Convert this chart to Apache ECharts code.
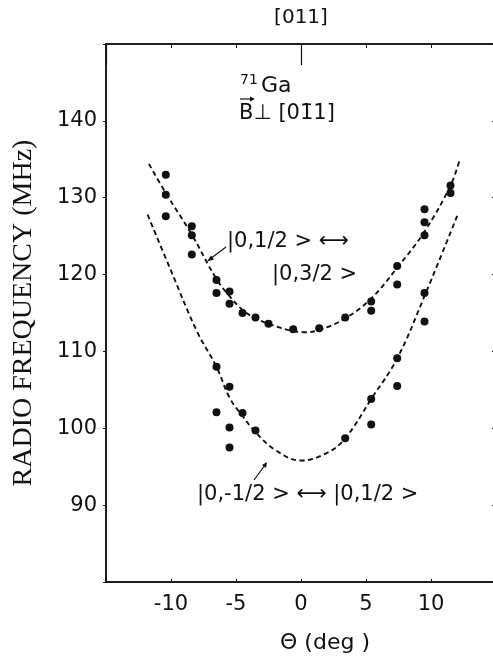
<!DOCTYPE html>
<html lang="en">
<head>
    <meta charset="UTF-8">
    <title>71Ga radio frequency vs angle</title>
    <script src="https://cdn.jsdelivr.net/npm/echarts@6/dist/echarts.min.js"></script>
    <style>
        html, body { margin: 0; padding: 0; background: #fff; }
        #main { width: 493px; height: 657px; }
    </style>
</head>
<body>
<div id="main"></div>
<script type="text/javascript">
// measured points, |0,1/2> <-> |0,3/2>
let upperTheta = [-10.4, -10.4, -10.4, -8.4, -8.4, -8.4, -6.5, -6.5, -5.5, -5.5, -4.5, -3.5, -2.5, -0.6, 1.4, 3.4, 5.4, 5.4, 7.4, 7.4, 9.5, 9.5, 9.5, 11.5, 11.5];
let upperFreq  = [133.0, 130.4, 127.6, 126.3, 125.1, 122.6, 119.3, 117.6, 117.8, 116.2, 115.0, 114.4, 113.6, 112.9, 113.0, 114.4, 116.5, 115.3, 121.1, 118.7, 128.5, 126.8, 125.1, 131.6, 130.6];
// measured points, |0,-1/2> <-> |0,1/2>
let lowerTheta = [-6.5, -6.5, -5.5, -5.5, -5.5, -4.5, -3.5, 3.4, 5.4, 5.4, 7.4, 7.4, 9.5, 9.5];
let lowerFreq  = [108.0, 102.1, 105.4, 100.1, 97.5, 102.0, 99.7, 98.7, 103.8, 100.5, 109.1, 105.5, 117.6, 113.9];
// dashed fit curves
let fitUpperTheta = [-11.7, -10.4, -8.4, -6.5, -5.5, -4.5, -3.5, -2.5, -1, 0.3, 1.4, 3.4, 5.4, 7.4, 9.5, 11.5, 12.2];
let fitUpperFreq  = [134.4, 130.6, 125.2, 119.4, 117.2, 115.4, 114.3, 113.6, 112.8, 112.5, 112.8, 114.3, 116.9, 120.9, 125.6, 131.6, 134.9];
let fitLowerTheta = [-11.8, -10, -8, -6.5, -5.5, -4.5, -3.5, -2, 0, 2, 3.4, 5.4, 7.4, 9.5, 12.1];
let fitLowerFreq  = [127.8, 120.5, 112.6, 108.0, 104.0, 101.6, 99.5, 97.2, 95.8, 96.8, 98.7, 103.8, 109.1, 117.2, 128.0];
let xTicks = [-10, -5, 0, 5, 10];
let yTicks = [90, 100, 110, 120, 130, 140];

function pairs(xs, ys) { return xs.map(function (x, i) { return [x, ys[i]]; }); }

let sans = 'DejaVu Sans';
let ink = '#111';
let myChart = echarts.init(document.getElementById('main'));

option = {
    backgroundColor: '#fff',
    animation: false,
    // frame drawn by the grid border (axis lines alone left top/bottom empty)
    grid: {
        left: 106, top: 44, width: 390, height: 538, outerBoundsMode: 'none', containLabel: false,
        show: true, borderColor: ink, borderWidth: 1.5, backgroundColor: 'transparent'
    },
    xAxis: [{
        type: 'value', position: 'bottom', min: -15, max: 15, interval: 5,
        axisLine: { show: true, lineStyle: { color: ink, width: 1.5 } },
        axisTick: { show: true, inside: true, length: 3, lineStyle: { color: ink } },
        splitLine: { show: false },
        axisLabel: {
            margin: 12, color: ink, fontFamily: sans, fontSize: 21,
            formatter: function (v) { return xTicks.indexOf(v) >= 0 ? String(v) : ''; }
        },
        name: 'Θ (deg )', nameLocation: 'middle', nameGap: 50,
        nameTextStyle: { color: ink, fontFamily: sans, fontSize: 22, padding: [0, 0, 0, 48] }
    }, {
        type: 'value', position: 'top', min: -15, max: 15, interval: 5,
        axisLine: { show: true, lineStyle: { color: ink, width: 1.5 } },
        axisTick: { show: true, inside: true, length: 4, lineStyle: { color: ink } },
        splitLine: { show: false },
        axisLabel: { show: false }
    }, {
        type: 'value', position: 'top', min: -15, max: 15, interval: 15,
        axisLine: { show: false },
        axisTick: { show: true, inside: true, length: 21, lineStyle: { color: ink, width: 1.2 } },
        splitLine: { show: false },
        axisLabel: {
            margin: 16, color: ink, fontFamily: sans, fontSize: 20,
            formatter: function (v) { return v === 0 ? '[011]' : ''; }
        }
    }],
    yAxis: [{
        type: 'value', position: 'left', min: 80, max: 150, interval: 10,
        axisLine: { show: true, onZero: false, lineStyle: { color: ink, width: 1.5 } },
        axisTick: { show: true, inside: false, length: 3, lineStyle: { color: ink } },
        splitLine: { show: false },
        axisLabel: {
            margin: 9, color: ink, fontFamily: sans, fontSize: 21,
            formatter: function (v) { return yTicks.indexOf(v) >= 0 ? String(v) : ''; }
        },
        name: 'RADIO FREQUENCY (MHz)', nameLocation: 'middle', nameGap: 68,
        nameTextStyle: { color: ink, fontFamily: 'Liberation Serif', fontSize: 28 }
    }, {
        type: 'value', position: 'right', min: 80, max: 150, interval: 10,
        axisLine: { show: true, onZero: false, lineStyle: { color: ink, width: 1.5 } },
        axisTick: { show: true, inside: true, length: 4, lineStyle: { color: ink } },
        splitLine: { show: false },
        axisLabel: { show: false }
    }],
    series: [
        {
            name: 'fit upper', type: 'line', data: pairs(fitUpperTheta, fitUpperFreq),
            smooth: 0.4, showSymbol: false, z: 2,
            lineStyle: { color: ink, width: 1.9, type: [5, 3.5] }
        },
        {
            name: 'fit lower', type: 'line', data: pairs(fitLowerTheta, fitLowerFreq),
            smooth: 0.4, showSymbol: false, z: 2,
            lineStyle: { color: ink, width: 1.9, type: [5, 3.5] }
        },
        {
            name: '|0,1/2> <-> |0,3/2>', type: 'scatter', data: pairs(upperTheta, upperFreq),
            symbol: 'circle', symbolSize: 8, z: 3, itemStyle: { color: ink, opacity: 1 }
        },
        {
            name: '|0,-1/2> <-> |0,1/2>', type: 'scatter', data: pairs(lowerTheta, lowerFreq),
            symbol: 'circle', symbolSize: 8, z: 3, itemStyle: { color: ink, opacity: 1 }
        }
    ],
    graphic: [
        { type: 'text', left: 240, top: 73, style: { text: '71', fontFamily: sans, fontSize: 14, fill: ink } },
        { type: 'text', left: 261, top: 75, style: { text: 'Ga', fontFamily: sans, fontSize: 22, fill: ink } },
        { type: 'text', left: 239, top: 103, style: { text: 'B⊥ [01\u03041]', fontFamily: sans, fontSize: 21, fill: ink } },
        { type: 'line', shape: { x1: 240, y1: 99, x2: 253, y2: 99 }, style: { stroke: ink, lineWidth: 1.2 } },
        { type: 'polygon', shape: { points: [[255, 99], [250, 96.5], [250, 101.5]] }, style: { fill: ink } },

        { type: 'text', left: 227, top: 231, style: { text: '|0,1/2 > ⟷', fontFamily: sans, fontSize: 21, fill: ink } },
        { type: 'text', left: 272, top: 264, style: { text: '|0,3/2 >', fontFamily: sans, fontSize: 21, fill: ink } },
        { type: 'line', shape: { x1: 226, y1: 247, x2: 210, y2: 259 }, style: { stroke: ink, lineWidth: 1.2 } },
        { type: 'polygon', shape: { points: [[207, 261.5], [211, 255.5], [214, 259.5]] }, style: { fill: ink } },

        { type: 'text', left: 197, top: 484, style: { text: '|0,-1/2 > ⟷ |0,1/2 >', fontFamily: sans, fontSize: 21, fill: ink } },
        { type: 'line', shape: { x1: 254, y1: 480, x2: 265, y2: 465 }, style: { stroke: ink, lineWidth: 1.2 } },
        { type: 'polygon', shape: { points: [[267, 462], [262, 465], [266, 468]] }, style: { fill: ink } }
    ]
};
myChart.setOption(option);
</script>
</body>
</html>
